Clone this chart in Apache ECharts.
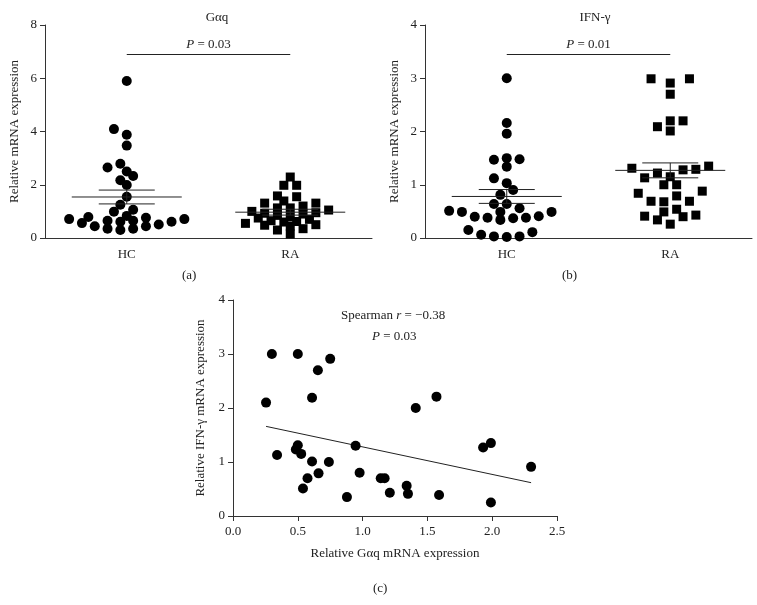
<!DOCTYPE html>
<html>
<head>
<meta charset="utf-8">
<script src="https://cdn.jsdelivr.net/npm/echarts@6/dist/echarts.min.js"></script>
<style>html,body{margin:0;padding:0;background:#fff}#c{width:757px;height:605px}</style>
</head>
<body>
<div id="c"></div>
<script>
// ---------- data ----------
const categories = ['HC', 'RA'];

// Panel (a) Gαq relative mRNA expression
const gaqHC = [5.9, 4.09, 3.88, 3.47, 2.65, 2.79, 2.5, 2.33, 2.17, 1.99, 1.55, 1.25, 1.06, 0.99, 0.83,
               0.79, 0.56, 0.71, 0.65, 0.61, 0.61, 0.65, 0.71, 0.76, 0.44, 0.35, 0.30, 0.35, 0.44, 0.51];
const gaqRA = [2.29, 1.98, 1.98, 1.58, 1.55, 1.39, 1.31, 1.31, 1.13, 1.13, 1.2, 1.05, 1.0, 0.95, 0.93,
               0.9, 0.85, 0.8, 0.75, 0.7, 0.65, 0.62, 0.6, 0.55, 0.5, 0.48, 0.45, 0.35, 0.3, 0.15];
const gaqMean = [1.54, 0.97];
const gaqSem = [0.26, 0.11];
const gaqP = 'P = 0.03';
const gaqBracketY = 6.9;

// Panel (b) IFN-γ relative mRNA expression
const ifnHC = [3.0, 2.16, 1.96, 1.48, 1.47, 1.5, 1.34, 1.12, 1.03, 0.9, 0.81, 0.64, 0.64, 0.56, 0.41,
               0.38, 0.51, 0.37, 0.49, 0.34, 0.49, 0.38, 0.4, 0.49, 0.11, 0.03, 0.02, 0.03, 0.06, 0.15];
const ifnRA = [2.91, 2.99, 2.99, 2.70, 2.20, 2.01, 2.09, 2.20, 1.31, 1.28, 1.15, 1.13, 1.22, 1.29, 1.35,
               1.00, 0.88, 0.79, 0.84, 0.68, 1.00, 0.69, 0.69, 0.54, 0.40, 0.49, 0.43, 0.41, 0.34, 0.26];
const ifnMean = [0.78, 1.27];
const ifnSem = [0.13, 0.14];
const ifnP = 'P = 0.01';
const ifnBracketY = 3.45;

// Panel (c) correlation
const corrX = [0.255, 0.30, 0.50, 0.75, 0.655, 0.61, 0.34, 0.485, 0.50, 0.526, 0.61, 0.74, 0.575, 0.66, 0.54,
               0.946, 0.977, 0.879, 1.14, 1.17, 1.21, 1.34, 1.35, 1.41, 1.57, 1.59, 1.93, 1.99, 1.99, 2.30];
const corrY = [2.10, 3.00, 3.00, 2.91, 2.70, 2.19, 1.13, 1.23, 1.31, 1.15, 1.01, 1.00, 0.70, 0.79, 0.51,
               1.30, 0.80, 0.35, 0.70, 0.70, 0.43, 0.56, 0.41, 2.00, 2.21, 0.39, 1.27, 1.35, 0.25, 0.91];
const fitSlope = -0.51;
const fitIntercept = 1.79;

const yTicksA = [0, 2, 4, 6, 8];
const yTicksB = [0, 1, 2, 3, 4];
const xTicksC = [0, 0.5, 1.0, 1.5, 2.0, 2.5];
const yTicksC = [0, 1, 2, 3, 4];

// ---------- chart ----------
const FONT = 'Liberation Serif';
const AX = '#333';
const chart = echarts.init(document.getElementById('c'), null, {renderer: 'canvas'});

function catAxis(gi) {
  return {
    type: 'category', gridIndex: gi, data: categories,
    axisLine: {lineStyle: {color: AX, width: 1}},
    axisTick: {alignWithLabel: true, length: 5, lineStyle: {color: AX}},
    axisLabel: {fontFamily: FONT, fontSize: 13, color: '#222', margin: 10},
    splitLine: {show: false}
  };
}
function valAxis(gi, ticks, name, gap) {
  return {
    type: 'value', gridIndex: gi, min: ticks[0], max: ticks[ticks.length - 1],
    interval: ticks[1] - ticks[0],
    name: name, nameLocation: 'middle', nameGap: gap, nameRotate: 90,
    nameTextStyle: {fontFamily: FONT, fontSize: 13, color: '#222'},
    axisLine: {show: true, lineStyle: {color: AX, width: 1}},
    axisTick: {show: true, length: 5, lineStyle: {color: AX}},
    axisLabel: {fontFamily: FONT, fontSize: 13, color: '#222', margin: 8},
    splitLine: {show: false}
  };
}

function meanSemSeries(xi, yi, means, sems) {
  return {
    type: 'custom', xAxisIndex: xi, yAxisIndex: yi, z: 5, silent: true,
    data: means.map((m, i) => [i, m, sems[i]]),
    renderItem: function (params, api) {
      const i = api.value(0), m = api.value(1), s = api.value(2);
      const c = api.coord([i, m]);
      const hi = api.coord([i, m + s]);
      const lo = api.coord([i, m - s]);
      const st = {stroke: '#222', lineWidth: 1};
      return {type: 'group', children: [
        {type: 'line', shape: {x1: c[0] - 55, y1: c[1], x2: c[0] + 55, y2: c[1]}, style: st},
        {type: 'line', shape: {x1: c[0] - 28, y1: hi[1], x2: c[0] + 28, y2: hi[1]}, style: st},
        {type: 'line', shape: {x1: c[0] - 28, y1: lo[1], x2: c[0] + 28, y2: lo[1]}, style: st},
        {type: 'line', shape: {x1: c[0], y1: hi[1], x2: c[0], y2: lo[1]}, style: st}
      ]};
    }
  };
}

function bracket(yv, text) {
  return {
    silent: true, symbol: ['none', 'none'],
    lineStyle: {color: '#222', width: 1, type: 'solid'},
    label: {
      show: true, position: 'middle', distance: 3,
      formatter: '{i|P} {n|' + text.slice(2) + '}',
      rich: {
        i: {fontFamily: FONT, fontSize: 13, fontStyle: 'italic', color: '#222'},
        n: {fontFamily: FONT, fontSize: 13, color: '#222'}
      }
    },
    data: [[{coord: [categories[0], yv]}, {coord: [categories[1], yv]}]]
  };
}

function swarmSeries(xi, yi, cat, values, symbol, size, offsets, mark) {
  const s = {
    type: 'scatter', xAxisIndex: xi, yAxisIndex: yi, z: 3,
    symbol: symbol, symbolSize: size,
    itemStyle: {color: '#000', opacity: 1},
    data: values.map((v, k) => ({value: [cat, v], symbolOffset: [offsets ? offsets[k] : 0, 0]}))
  };
  if (mark) s.markLine = mark;
  return s;
}

// Prism-like column scatter: bin points into rows, spread each row symmetrically
function swarm(values, pxPerUnit, binH, spacing, minD) {
  const out = new Array(values.length).fill(0);
  const rows = {};
  values.forEach((v, k) => {
    const b = Math.floor(v * pxPerUnit / binH);
    (rows[b] = rows[b] || []).push(k);
  });
  const placed = [];
  Object.keys(rows).map(Number).sort((a, b) => a - b).forEach(b => {
    const idx = rows[b].sort((p, q) => values[p] - values[q]);
    const even = idx.length % 2 === 0;
    const slots = [];
    for (let n = 0; n < 40; n++) {
      const m = Math.ceil(n / 2) * (n % 2 === 1 ? -1 : 1);
      if (even) { const e = n % 2 === 0 ? (n / 2 + 0.5) * -1 : ((n - 1) / 2 + 0.5); slots.push(e); }
      else slots.push(m);
    }
    const used = new Set();
    idx.forEach(k => {
      const py = values[k] * pxPerUnit;
      for (const s of slots) {
        if (used.has(s)) continue;
        const dx = s * spacing;
        const ok = placed.every(p => (p[0] - dx) ** 2 + (p[1] - py) ** 2 >= minD * minD);
        if (ok) { used.add(s); out[k] = dx; break; }
      }
    });
    idx.forEach(k => placed.push([out[k], values[k] * pxPerUnit]));
  });
  return out;
}

function build(off) {
  const fitXs = [Math.min(...corrX), Math.max(...corrX)];
  const rich = {
    n: {fontFamily: FONT, fontSize: 13, fill: '#222'},
    i: {fontFamily: FONT, fontSize: 13, fontStyle: 'italic', fill: '#222'}
  };
  return {
    animation: false,
    backgroundColor: '#fff',
    title: [
      {text: 'Gαq', left: 212, top: 6, textAlign: 'center', textStyle: {fontFamily: FONT, fontSize: 13, fontWeight: 'normal', color: '#222'}},
      {text: 'IFN-γ', left: 590, top: 6, textAlign: 'center', textStyle: {fontFamily: FONT, fontSize: 13, fontWeight: 'normal', color: '#222'}}
    ],
    graphic: [
      {type: 'text', left: 182, top: 269, style: {text: '(a)', fontFamily: FONT, fontSize: 13, fill: '#222'}},
      {type: 'text', left: 562, top: 269, style: {text: '(b)', fontFamily: FONT, fontSize: 13, fill: '#222'}},
      {type: 'text', left: 373, top: 582, style: {text: '(c)', fontFamily: FONT, fontSize: 13, fill: '#222'}},
      {type: 'text', left: 341, top: 309, style: {rich: rich, text: '{n|Spearman }{i|r}{n| = −0.38}'}},
      {type: 'text', left: 372, top: 330, style: {rich: rich, text: '{i|P}{n| = 0.03}'}}
    ],
    grid: [
      {left: 45, top: 25, width: 327, height: 213},
      {left: 425, top: 25, width: 327, height: 213},
      {left: 233, top: 300, width: 324, height: 216}
    ],
    xAxis: [
      catAxis(0),
      catAxis(1),
      {
        type: 'value', gridIndex: 2, min: xTicksC[0], max: xTicksC[xTicksC.length - 1], interval: 0.5,
        name: 'Relative Gαq mRNA expression', nameLocation: 'middle', nameGap: 31,
        nameTextStyle: {fontFamily: FONT, fontSize: 13, color: '#222'},
        axisLine: {show: true, lineStyle: {color: AX}},
        axisTick: {show: true, length: 5, lineStyle: {color: AX}},
        axisLabel: {fontFamily: FONT, fontSize: 13, color: '#222', margin: 9,
          formatter: v => v.toFixed(1)},
        splitLine: {show: false}
      }
    ],
    yAxis: [
      valAxis(0, yTicksA, 'Relative mRNA expression', 24),
      valAxis(1, yTicksB, 'Relative mRNA expression', 24),
      valAxis(2, yTicksC, 'Relative IFN-γ mRNA expression', 26)
    ],
    series: [
      swarmSeries(0, 0, 'HC', gaqHC, 'circle', 10, off.a1, bracket(gaqBracketY, gaqP)),
      swarmSeries(0, 0, 'RA', gaqRA, 'rect', 9, off.a2),
      meanSemSeries(0, 0, gaqMean, gaqSem),
      swarmSeries(1, 1, 'HC', ifnHC, 'circle', 10, off.b1, bracket(ifnBracketY, ifnP)),
      swarmSeries(1, 1, 'RA', ifnRA, 'rect', 9, off.b2),
      meanSemSeries(1, 1, ifnMean, ifnSem),
      {
        type: 'scatter', xAxisIndex: 2, yAxisIndex: 2, symbol: 'circle', symbolSize: 10,
        itemStyle: {color: '#000', opacity: 1}, z: 3,
        data: corrX.map((x, k) => [x, corrY[k]])
      },
      {
        type: 'line', xAxisIndex: 2, yAxisIndex: 2, symbol: 'none', silent: true,
        lineStyle: {color: '#222', width: 1},
        data: fitXs.map(x => [x, fitIntercept + fitSlope * x])
      }
    ]
  };
}

chart.setOption(build({}));
function ppu(gi, top) {
  const p0 = chart.convertToPixel({gridIndex: gi}, [0, 0]);
  const p1 = chart.convertToPixel({gridIndex: gi}, [0, top]);
  return Math.abs(p0[1] - p1[1]) / top;
}
const pa = ppu(0, 8), pb = ppu(1, 4);
const offsets = {
  a1: swarm(gaqHC, pa, 7, 12.8, 7.8),
  a2: swarm(gaqRA, pa, 7, 12.8, 7.2),
  b1: swarm(ifnHC, pb, 7, 12.8, 7.8),
  b2: swarm(ifnRA, pb, 12, 12.8, 9.5)
};
chart.setOption(build(offsets), true);
</script>
</body>
</html>
